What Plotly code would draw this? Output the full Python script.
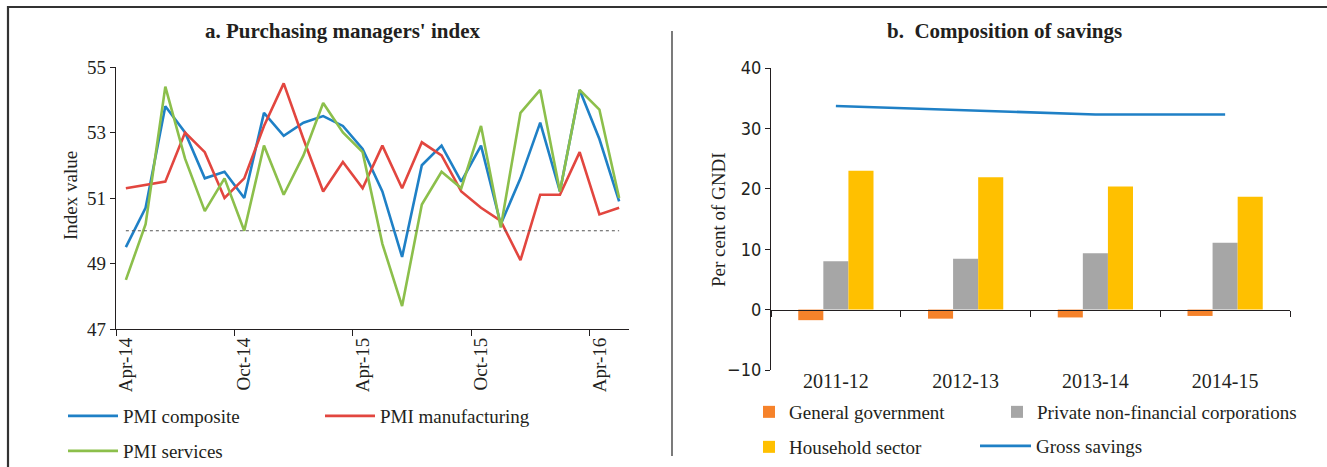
import plotly.graph_objects as go

W, H = 1327, 467

# ---------------- data ----------------
months = ["Apr-14", "May-14", "Jun-14", "Jul-14", "Aug-14", "Sep-14", "Oct-14", "Nov-14",
          "Dec-14", "Jan-15", "Feb-15", "Mar-15", "Apr-15", "May-15", "Jun-15", "Jul-15",
          "Aug-15", "Sep-15", "Oct-15", "Nov-15", "Dec-15", "Jan-16", "Feb-16", "Mar-16",
          "Apr-16", "May-16"]
pmi_composite = [49.5, 50.7, 53.8, 53.0, 51.6, 51.8, 51.0, 53.6, 52.9, 53.3, 53.5, 53.2, 52.5,
                 51.2, 49.2, 52.0, 52.6, 51.5, 52.6, 50.2, 51.6, 53.3, 51.2, 54.3, 52.8, 50.9]
pmi_manufacturing = [51.3, 51.4, 51.5, 53.0, 52.4, 51.0, 51.6, 53.2, 54.5, 52.8, 51.2, 52.1, 51.3,
                     52.6, 51.3, 52.7, 52.3, 51.2, 50.7, 50.3, 49.1, 51.1, 51.1, 52.4, 50.5, 50.7]
pmi_services = [48.5, 50.2, 54.4, 52.2, 50.6, 51.6, 50.0, 52.6, 51.1, 52.3, 53.9, 53.0, 52.4,
                49.6, 47.7, 50.8, 51.8, 51.3, 53.2, 50.1, 53.6, 54.3, 51.2, 54.3, 53.7, 51.0]
pmi_threshold = 50
pmi_ticks = ["Apr-14", "Oct-14", "Apr-15", "Oct-15", "Apr-16"]

years = ["2011-12", "2012-13", "2013-14", "2014-15"]
general_government = [-1.75, -1.5, -1.3, -1.05]
private_nfc = [8.0, 8.4, 9.35, 11.05]
household_sector = [23.0, 21.9, 20.4, 18.7]
gross_savings = [33.7, 33.0, 32.3, 32.3]

# ---------------- style ----------------
SERIF = "Liberation Serif, DejaVu Serif, serif"
NARROW = "Liberation Sans Narrow, DejaVu Sans Condensed, Liberation Sans, sans-serif"
TXT = "#231f20"
AX = "#231f20"
BLUE = "#1f80c6"
RED = "#e2463f"
GREEN = "#8cbf4b"
ORANGE = "#f6822a"
GREY = "#a6a6a6"
YELLOW = "#ffc000"


def px_x(p):
    return p / W


def px_y(p):
    return 1 - p / H


x_idx = list(range(len(months)))

fig = go.Figure()

# ---- left panel ----
for name, vals, col, leg in [("PMI composite", pmi_composite, BLUE, "legend2"),
                             ("PMI manufacturing", pmi_manufacturing, RED, "legend3"),
                             ("PMI services", pmi_services, GREEN, "legend4")]:
    fig.add_trace(go.Scatter(x=x_idx, y=vals, mode="lines", name=name,
                             line=dict(color=col, width=2.6), xaxis="x", yaxis="y",
                             legend=leg))

# ---- right panel ----
fig.add_trace(go.Bar(x=years, y=general_government, name="General government",
                     marker=dict(color=ORANGE, line=dict(width=0)), xaxis="x2", yaxis="y2",
                     legend="legend5"))
fig.add_trace(go.Bar(x=years, y=private_nfc, name="Private non-financial corporations",
                     marker=dict(color=GREY, line=dict(width=0)), xaxis="x2", yaxis="y2",
                     legend="legend6"))
fig.add_trace(go.Bar(x=years, y=household_sector, name="Household sector",
                     marker=dict(color=YELLOW, line=dict(width=0)), xaxis="x2", yaxis="y2",
                     legend="legend7"))
fig.add_trace(go.Scatter(x=years, y=gross_savings, mode="lines", name="Gross savings",
                         line=dict(color=BLUE, width=2.6), xaxis="x2", yaxis="y2",
                         legend="legend8"))

# domains (pixel based)
x1_dom = [px_x(116), px_x(629)]
y1_dom = [px_y(329), px_y(67)]
x2_dom = [px_x(771), px_x(1290)]
y2_dom = [px_y(370), px_y(68)]
y2_range = [-10, 40]
zero_pos = y2_dom[0] + (0 - y2_range[0]) / (y2_range[1] - y2_range[0]) * (y2_dom[1] - y2_dom[0])

fig.update_layout(
    width=W, height=H,
    margin=dict(l=0, r=0, t=0, b=0, pad=0, autoexpand=False),
    paper_bgcolor="white", plot_bgcolor="white",
    font=dict(family=SERIF, size=19, color=TXT),
    barmode="group", bargap=0.42, bargroupgap=0,
    legend=dict(visible=False),
    xaxis=dict(domain=x1_dom, anchor="y", range=[-0.5, len(months) - 0.5], automargin=False,
               tickmode="array", tickvals=[months.index(m) for m in pmi_ticks], ticktext=pmi_ticks,
               tickangle=-90, ticks="", showgrid=False, zeroline=False,
               showline=True, linecolor=AX, linewidth=1.3,
               tickfont=dict(family=SERIF, size=19, color=TXT), ticklabelstandoff=0,
               minor=dict(ticks="outside", tickmode="array",
                          tickvals=[months.index(m) - 0.5 for m in pmi_ticks],
                          ticklen=6, tickwidth=1.3, tickcolor=AX, showgrid=False)),
    yaxis=dict(domain=y1_dom, anchor="x", range=[47, 55], tickmode="array", automargin=False,
               tickvals=[47, 49, 51, 53, 55], ticks="outside", ticklen=5, tickwidth=1.3,
               tickcolor=AX, showline=True, linecolor=AX, linewidth=1.3, showgrid=False,
               zeroline=False, tickfont=dict(family=SERIF, size=19, color=TXT)),
    xaxis2=dict(domain=x2_dom, anchor="free", position=zero_pos, type="category",
                range=[-0.5, len(years) - 0.5], automargin=False,
                tickson="boundaries", ticks="outside", ticklen=6, tickwidth=1.3, tickcolor=AX,
                showline=True, linecolor=AX, linewidth=1.3, showgrid=False, zeroline=False,
                tickfont=dict(family=SERIF, size=20, color=TXT), ticklabelstandoff=53),
    yaxis2=dict(domain=y2_dom, anchor="x2", range=y2_range, dtick=10, ticks="outside",
                automargin=False,
                ticklen=5, tickwidth=1.3, tickcolor=AX, showline=True, linecolor=AX,
                linewidth=1.3, showgrid=False, zeroline=False,
                tickfont=dict(family=NARROW, size=18, color=TXT)),
)

# legends, one per entry: (x of legend box, y centre, itemwidth)
legend_pos = {
    "legend2": (63, 416, 50), "legend3": (320, 416, 50), "legend4": (63, 451, 50),
    "legend5": (749, 412, 30), "legend6": (997, 412, 30), "legend7": (749, 447, 30),
    "legend8": (975, 446, 51),
}
for key, (lx, ly, iw) in legend_pos.items():
    fig.update_layout({key: dict(orientation="v", xanchor="left", yanchor="middle",
                                 bgcolor="rgba(0,0,0,0)", borderwidth=0, itemwidth=iw,
                                 font=dict(family=SERIF, size=19, color=TXT),
                                 x=px_x(lx), y=px_y(ly))})

# titles and axis titles
ann = dict(xref="paper", yref="paper", showarrow=False, xanchor="center", yanchor="middle")
fig.add_annotation(text="<b>a. Purchasing managers' index</b>", x=px_x(342), y=px_y(31),
                   font=dict(family=SERIF, size=21, color=TXT), **ann)
fig.add_annotation(text="<b>b.\u00a0 Composition of savings</b>", x=px_x(1004), y=px_y(31),
                   font=dict(family=SERIF, size=21, color=TXT), **ann)
fig.add_annotation(text="Index value", x=px_x(70), y=px_y(196), textangle=-90,
                   font=dict(family=SERIF, size=19, color=TXT), **ann)
fig.add_annotation(text="Per cent of GNDI", x=px_x(718), y=px_y(220), textangle=-90,
                   font=dict(family=SERIF, size=19, color=TXT), **ann)

# 50 threshold reference line
fig.add_shape(type="line", xref="x", yref="y", x0=0, x1=len(months) - 1,
              y0=pmi_threshold, y1=pmi_threshold, line=dict(color="#555555", width=1, dash="dot"))

# frame lines
fig.add_shape(type="line", xref="paper", yref="paper", x0=px_x(7), x1=1, y0=px_y(7), y1=px_y(7),
              line=dict(color="#333333", width=2.2))
fig.add_shape(type="line", xref="paper", yref="paper", x0=px_x(8), x1=px_x(8), y0=px_y(6), y1=0,
              line=dict(color="#333333", width=2.2))
fig.add_shape(type="line", xref="paper", yref="paper", x0=px_x(672), x1=px_x(672),
              y0=px_y(31), y1=px_y(456), line=dict(color="#333333", width=1.3))

fig.write_html(
    "out.html",
    config={"displayModeBar": False},
    post_script=("document.documentElement.style.overflow='hidden';"
                 "document.body.style.margin='0px';document.body.style.overflow='hidden';"),
)
